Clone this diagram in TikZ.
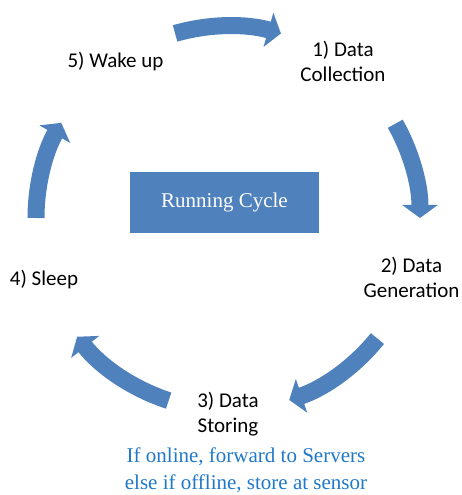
\documentclass[tikz,border=0pt]{standalone}
\usepackage{fontspec}
\setmainfont{Carlito}
\newfontfamily\timesfont{Liberation Serif}
\usetikzlibrary{arrows.meta}
\definecolor{cycleblue}{RGB}{79,129,189}
\definecolor{noteblue}{RGB}{31,120,200}

\begin{document}
\begin{tikzpicture}[
  x = 1pt, y = 1pt,
  stage/.style = {font = \fontsize{21}{25}\selectfont, align = center, inner sep = 0pt, anchor = base},
  cyclearrow/.style = {draw = cycleblue, line width = 17pt, -{Triangle[width = 35pt, length = 13pt]}}
  ]
  \useasboundingbox (-228,-277) rectangle (234,218);

  %centre box
  \node[fill = cycleblue, minimum width = 189pt, minimum height = 61pt, text = white,
        font = \timesfont\fontsize{21}{25}\selectfont] (cycle) at (-3.5,15.5) {Running Cycle};

  %stages (base = last line)
  \node[stage] (wake) at (-112.5,150) {5) Wake up};
  \node[stage] (collect) at (115,136) {1) Data\\Collection};
  \node[stage] (generate) at (183.5,-79) {2) Data\\Generation};
  \node[stage] (store) at (0,-214) {3) Data\\Storing};
  \node[stage] (sleep) at (-184,-67) {4) Sleep};
  \node[stage, text = noteblue, font = \timesfont\fontsize{21}{27}\selectfont] (note) at (18,-271.5)
    {If online, forward to Servers\\else if offline, store at sensor};

  %arrows round the cycle
  \draw[cyclearrow] (106:192) arc[start angle = 106, end angle = 74, radius = 192];
  \draw[cyclearrow] (29.4:192) arc[start angle = 29.4, end angle = 0, radius = 192];
  \draw[cyclearrow] (-38.9:192) arc[start angle = -38.9, end angle = -71.4, radius = 192];
  \draw[cyclearrow] (-108:192) arc[start angle = -108, end angle = -141.8, radius = 192];
  \draw[cyclearrow] (180:192) arc[start angle = 180, end angle = 150.3, radius = 192];
\end{tikzpicture}
\end{document}
